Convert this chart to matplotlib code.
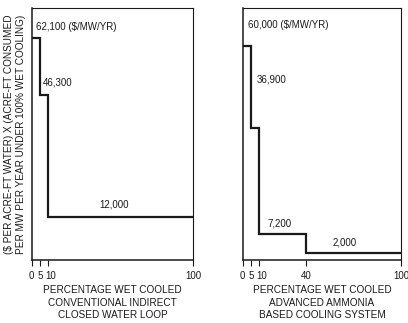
import numpy as np
import matplotlib
matplotlib.use("Agg")
import matplotlib.pyplot as plt
import matplotlib.transforms as mtransforms

plt.rcParams['font.family'] = ['Liberation Sans', 'DejaVu Sans']

# left panel: conventional indirect closed water loop
edges_a = [0, 5, 10, 100]
values_a = [62100, 46300, 12000]
labels_a = ["62,100 ($/MW/YR)", "46,300", "12,000"]
ticks_a = [0, 5, 10, 100]
ticklabels_a = ["0", "5", "10", "100"]

# right panel: advanced ammonia based cooling system
edges_b = [0, 5, 10, 40, 100]
values_b = [60000, 36900, 7200, 2000]
labels_b = ["60,000 ($/MW/YR)", "36,900", "7,200", "2,000"]
ticks_b = [0, 5, 10, 40, 100]
ticklabels_b = ["0", "5", "10", "40", "100"]

ylabel = "($ PER ACRE-FT WATER) X (ACRE-FT CONSUMED\nPER MW PER YEAR UNDER 100% WET COOLING)"
xlabel_a = "PERCENTAGE WET COOLED\nCONVENTIONAL INDIRECT\nCLOSED WATER LOOP"
xlabel_b = "PERCENTAGE WET COOLED\nADVANCED AMMONIA\nBASED COOLING SYSTEM"

# where the value labels sit (data coords, bottom-left of text)
pos_a = [(2.5, 63900), (6.8, 48300), (41.6, 14000)]
pos_b = [(3.2, 64300), (8.9, 49100), (15.2, 8700), (57, 3400)]

ink = '#1a1a1a'
fs = 7.0

fig = plt.figure(figsize=(4.08, 3.23), dpi=100)
ax1 = fig.add_axes([32 / 408, 63 / 323, 161 / 408, 252 / 323])
ax2 = fig.add_axes([243 / 408, 63 / 323, 158 / 408, 252 / 323])


def draw_panel(ax, edges, values, labels, ticks, ticklabels, xlabel, pos):
    ax.stairs(values, edges, baseline=None, color=ink, lw=1.6)
    for (lx, ly), txt in zip(pos, labels):
        ax.text(lx, ly, txt, fontsize=fs, color=ink, ha='left', va='bottom')
    ax.set_xlim(0, 100)
    ax.set_ylim(0, 70500)
    ax.set_xticks(ticks)
    ax.set_xticklabels(ticklabels, fontsize=fs, color=ink)
    ax.tick_params(axis='x', direction='out', length=4, width=0.8, pad=4, colors=ink)
    # spread the crowded 0/5/10 labels a little
    shifts = {"0": -1, "10": 2.5}
    for lab in ax.get_xticklabels():
        dx = shifts.get(lab.get_text(), 0)
        if dx:
            off = mtransforms.ScaledTranslation(dx / 100, 0, fig.dpi_scale_trans)
            lab.set_transform(lab.get_transform() + off)
    ax.set_yticks([])
    for s in ax.spines.values():
        s.set_color(ink)
        s.set_linewidth(0.8)
    ax.spines['left'].set_linewidth(1.1)
    ax.spines['bottom'].set_linewidth(1.1)
    ax.set_xlabel(xlabel, fontsize=fs + 0.2, color=ink, labelpad=3, linespacing=1.3)


draw_panel(ax1, edges_a, values_a, labels_a, ticks_a, ticklabels_a, xlabel_a, pos_a)
draw_panel(ax2, edges_b, values_b, labels_b, ticks_b, ticklabels_b, xlabel_b, pos_b)

ax1.set_ylabel(ylabel, fontsize=fs + 0.2, color=ink, labelpad=4, linespacing=1.35)

fig.savefig("out.png", dpi=100)
